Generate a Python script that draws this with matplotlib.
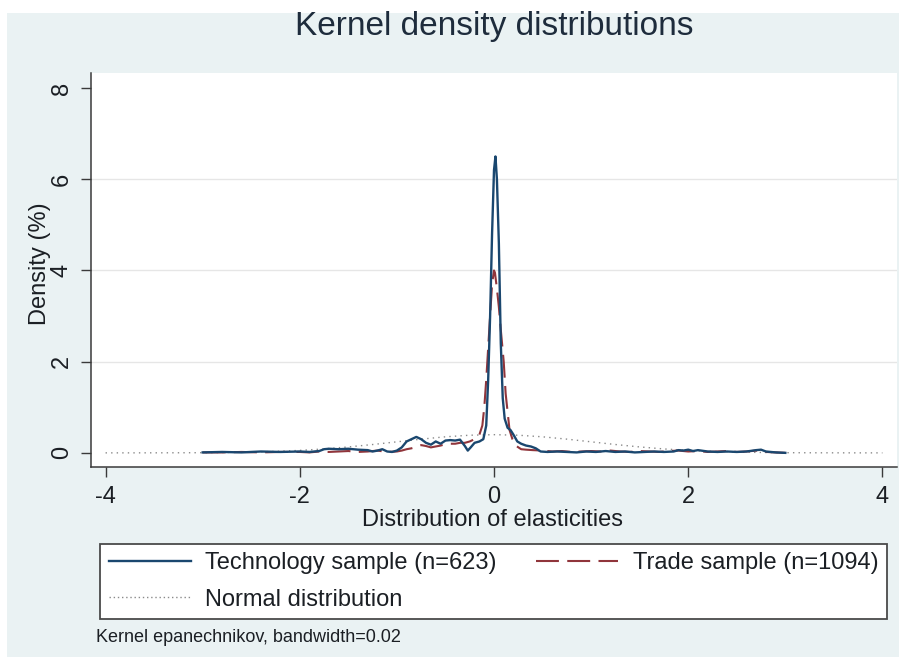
import matplotlib
matplotlib.use("Agg")
import matplotlib.pyplot as plt
from matplotlib.lines import Line2D
from matplotlib.patches import Rectangle

plt.rcParams['font.family'] = ['Liberation Sans', 'DejaVu Sans']

# ---------------- data ----------------
tech_x = [-3.0, -2.8, -2.6, -2.4, -2.2, -2.0, -1.9, -1.8, -1.75, -1.7, -1.6, -1.5, -1.4,
          -1.3, -1.25, -1.2, -1.15, -1.1, -1.05, -1.0, -0.95, -0.9, -0.85, -0.8, -0.75,
          -0.7, -0.65, -0.6, -0.55, -0.5, -0.45, -0.4, -0.35, -0.3, -0.27, -0.24, -0.2,
          -0.15, -0.11, -0.08, -0.06, -0.04, -0.02, 0.0, 0.015, 0.03, 0.05, 0.07, 0.09,
          0.11, 0.14, 0.17, 0.2, 0.24, 0.28, 0.33, 0.38, 0.43, 0.48, 0.55, 0.65, 0.75,
          0.85, 0.95, 1.05, 1.15, 1.25, 1.35, 1.45, 1.55, 1.65, 1.75, 1.85, 1.9, 1.95,
          2.0, 2.05, 2.1, 2.2, 2.3, 2.4, 2.5, 2.6, 2.7, 2.75, 2.8, 2.9, 3.0]
tech_y = [0.01, 0.02, 0.01, 0.03, 0.02, 0.03, 0.02, 0.04, 0.08, 0.09, 0.08, 0.09, 0.07,
          0.06, 0.03, 0.05, 0.08, 0.03, 0.02, 0.05, 0.12, 0.25, 0.30, 0.35, 0.30,
          0.22, 0.18, 0.25, 0.20, 0.27, 0.28, 0.27, 0.29, 0.15, 0.05, 0.12, 0.22,
          0.25, 0.30, 0.60, 1.60, 3.00, 4.80, 6.20, 6.50, 6.00, 4.60, 2.40, 1.20,
          0.75, 0.55, 0.50, 0.40, 0.25, 0.20, 0.16, 0.14, 0.10, 0.03, 0.02, 0.03, 0.02,
          0.01, 0.03, 0.02, 0.04, 0.02, 0.03, 0.01, 0.02, 0.03, 0.02, 0.03, 0.06, 0.05,
          0.07, 0.04, 0.06, 0.03, 0.02, 0.03, 0.02, 0.03, 0.06, 0.07, 0.03, 0.01, 0.0]

trade_x = [-3.0, -2.8, -2.6, -2.4, -2.2, -2.0, -1.9, -1.8, -1.7, -1.6, -1.5, -1.4, -1.3,
           -1.2, -1.1, -1.0, -0.95, -0.9, -0.85, -0.8, -0.75, -0.7, -0.65, -0.6, -0.55,
           -0.5, -0.45, -0.4, -0.35, -0.3, -0.25, -0.2, -0.15, -0.12, -0.1, -0.08, -0.06,
           -0.04, -0.02, 0.0, 0.01, 0.03, 0.05, 0.07, 0.1, 0.12, 0.135, 0.16, 0.19, 0.23,
           0.28, 0.33, 0.4, 0.5, 0.6, 0.7, 0.8, 0.9, 1.0, 1.1, 1.2, 1.3, 1.4, 1.5, 1.6,
           1.7, 1.8, 1.9, 2.0, 2.1, 2.2, 2.3, 2.4, 2.5, 2.6, 2.7, 2.8, 2.9, 3.0]
trade_y = [0.01, 0.01, 0.02, 0.01, 0.02, 0.02, 0.01, 0.03, 0.02, 0.03, 0.04, 0.02, 0.03,
           0.05, 0.02, 0.03, 0.05, 0.08, 0.10, 0.13, 0.17, 0.15, 0.12, 0.14, 0.16,
           0.19, 0.20, 0.20, 0.22, 0.22, 0.25, 0.30, 0.40, 0.60, 1.00, 1.60, 2.30,
           3.00, 3.70, 4.00, 3.95, 3.60, 3.20, 2.70, 2.00, 1.30, 1.00, 0.50, 0.30, 0.15,
           0.08, 0.07, 0.06, 0.05, 0.03, 0.04, 0.02, 0.03, 0.04, 0.03, 0.05, 0.03, 0.02,
           0.04, 0.03, 0.02, 0.04, 0.05, 0.03, 0.04, 0.02, 0.03, 0.04, 0.02, 0.03, 0.05,
           0.02, 0.01, 0.0]

normal_x = [-4.0, -3.75, -3.5, -3.25, -3.0, -2.75, -2.5, -2.25, -2.0, -1.75, -1.5, -1.25,
            -1.0, -0.75, -0.5, -0.25, 0.0, 0.25, 0.5, 0.75, 1.0, 1.25, 1.5, 1.75, 2.0,
            2.25, 2.5, 2.75, 3.0, 3.25, 3.5, 3.75, 4.0]
normal_y = [0.000, 0.000, 0.001, 0.002, 0.004, 0.009, 0.018, 0.032, 0.054, 0.086, 0.130,
            0.183, 0.242, 0.301, 0.352, 0.387, 0.399, 0.387, 0.352, 0.301, 0.242, 0.183,
            0.130, 0.086, 0.054, 0.032, 0.018, 0.009, 0.004, 0.002, 0.001, 0.000, 0.000]

x_ticks = [-4, -2, 0, 2, 4]
y_ticks = [0, 2, 4, 6, 8]
labels = ["Technology sample (n=623)", "Trade sample (n=1094)", "Normal distribution"]

assert len(tech_x) == len(tech_y)
assert len(trade_x) == len(trade_y)
assert len(normal_x) == len(normal_y)

# ---------------- styling ----------------
W, H = 899, 657
NAVY = "#1A476F"
MAROON = "#90353B"
BG = "#EAF2F3"
TXT = "#1b1f24"
DASH = (11, 4)

fig = plt.figure(figsize=(W / 100, H / 100), dpi=100, facecolor="white")
fig.patches.append(Rectangle((7 / W, 0), 1 - 7 / W, 1 - 13 / H, transform=fig.transFigure,
                             facecolor=BG, edgecolor="none", zorder=-10))

def fx(px):
    return px / W

def fy(py):
    return 1 - py / H

ax = fig.add_axes([fx(91), fy(467), fx(897) - fx(91), fy(73) - fy(467)])
ax.set_facecolor("white")

ax.plot(normal_x, normal_y, color="#8a8a8a", lw=1.0, linestyle=(0, (1, 3)), zorder=2,
        label=labels[2])
ln_trade, = ax.plot(trade_x, trade_y, color=MAROON, lw=1.5, zorder=3, label=labels[1])
ln_trade.set_dashes(DASH)
ln_tech, = ax.plot(tech_x, tech_y, color=NAVY, lw=1.7, zorder=4, label=labels[0])

ax.set_xlim(-4.15, 4.15)
ax.set_ylim(-0.31, 8.33)
ax.set_xticks(x_ticks)
ax.set_yticks(y_ticks)
ax.set_xticklabels([str(v) for v in x_ticks])
ax.set_yticklabels([str(v) for v in y_ticks], rotation=90, va="center")
for g in [2, 4, 6]:
    ax.axhline(g, color="#e6e6e6", lw=1.0, zorder=1)

for s in ["top", "right"]:
    ax.spines[s].set_visible(False)
for s in ["left", "bottom"]:
    ax.spines[s].set_color("#3a3a3a")
    ax.spines[s].set_linewidth(1.1)
ax.tick_params(axis="both", direction="out", length=7, width=1.0, color="#3a3a3a",
               labelsize=17, labelcolor=TXT)
ax.tick_params(axis="x", pad=6.5)
ax.tick_params(axis="y", pad=6)

fig.text(fx(494), fy(27), "Kernel density distributions", ha="center", va="center",
         fontsize=24, color="#1e2c3c")
fig.text(fx(493), fy(520), "Distribution of elasticities", ha="center", va="center",
         fontsize=17, color=TXT)
fig.text(fx(40), fy(264), "Density (%)", ha="center", va="center", rotation=90,
         fontsize=17, color=TXT)
fig.text(fx(96), fy(638), "Kernel epanechnikov, bandwidth=0.02", ha="left", va="center",
         fontsize=13, color=TXT)

h_tech = Line2D([], [], color=NAVY, lw=1.7)
h_trade = Line2D([], [], color=MAROON, lw=1.5)
h_trade.set_dashes(DASH)
h_norm = Line2D([], [], color="#8a8a8a", lw=1.0, linestyle=(0, (1, 2)))
leg = fig.legend([h_tech, h_norm, h_trade], [labels[0], labels[2], labels[1]],
                 ncol=2, loc="upper left",
                 bbox_to_anchor=(fx(100), fy(544)),
                 bbox_transform=fig.transFigure, fontsize=17, frameon=True,
                 fancybox=False, framealpha=1, edgecolor="#4a4a4a", borderaxespad=0,
                 handlelength=3.5, handletextpad=0.6, labelspacing=0.6, borderpad=0.36,
                 columnspacing=1.65)
leg.get_frame().set_linewidth(1.3)
for t in leg.get_texts():
    t.set_color(TXT)

fig.savefig("out.png", dpi=100, facecolor=fig.get_facecolor())
